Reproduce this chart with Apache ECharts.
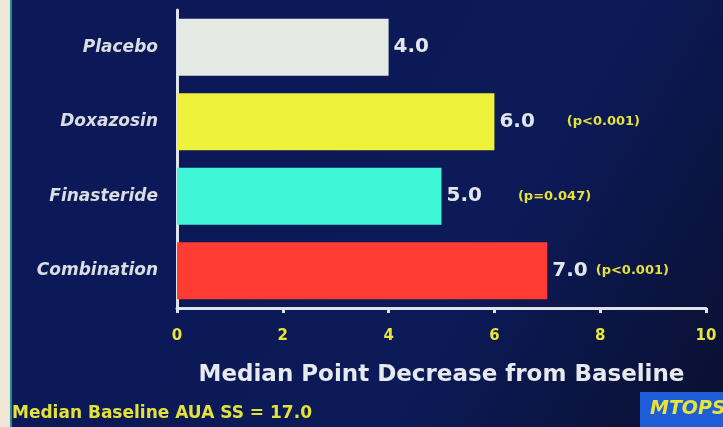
<!DOCTYPE html>
<html>
<head>
<meta charset="utf-8">
<script src="https://cdn.jsdelivr.net/npm/echarts@6/dist/echarts.min.js"></script>
<style>html,body{margin:0;padding:0;}#c{width:723px;height:427px;}</style>
</head>
<body>
<div id="c"></div>
<script>
// Treatment arms, top to bottom
const categories = ['Placebo', 'Doxazosin', 'Finasteride', 'Combination'];
// Median point decrease from baseline
const values = [4.0, 6.0, 5.0, 7.0];
// Significance versus placebo
const pValues = ['', '(p<0.001)', '(p=0.047)', '(p<0.001)'];
const xTicks = [0, 2, 4, 6, 8, 10];

const barColors = ['#e6eae4', '#eef23a', '#3ff7d6', '#ff3b32'];
const pGap = [0, 32, 36, 8];

const chart = echarts.init(document.getElementById('c'));
chart.setOption({
  backgroundColor: new echarts.graphic.LinearGradient(0, 0, 1, 1, [
    { offset: 0, color: '#0c1857' },
    { offset: 0.65, color: '#0c1a58' },
    { offset: 1, color: '#0a1030' }
  ]),
  animation: false,
  grid: { left: 177, right: 17, top: 10, bottom: 119 },
  xAxis: {
    type: 'value', min: 0, max: 10, interval: 2,
    axisLine: { show: true, lineStyle: { color: '#dfe3e8', width: 3 } },
    axisTick: { show: true, length: 5, lineStyle: { color: '#dfe3e8', width: 3 } },
    splitLine: { show: false },
    axisLabel: {
      color: '#e8e63a', fontFamily: 'DejaVu Sans', fontWeight: 'bold', fontSize: 15, margin: 21,
      formatter: v => xTicks.includes(v) ? String(v) : ''
    },
    name: 'Median Point Decrease from Baseline',
    nameLocation: 'middle', nameGap: 56,
    nameTextStyle: { color: '#e6e9ee', fontFamily: 'DejaVu Sans', fontWeight: 'bold', fontSize: 23 }
  },
  yAxis: {
    type: 'category', data: categories, inverse: true,
    axisLine: { show: true, lineStyle: { color: '#dfe3e8', width: 3 } },
    axisTick: { show: false },
    axisLabel: {
      color: '#d9dde2', fontFamily: 'DejaVu Sans', fontWeight: 'bold', fontStyle: 'italic',
      fontSize: 17, margin: 19
    }
  },
  series: [{
    type: 'bar',
    barWidth: 57,
    data: values.map((v, i) => ({
      value: v,
      itemStyle: { color: barColors[i] },
      label: {
        show: true, position: 'right', distance: 5,
        formatter: () => '{v|' + v.toFixed(1) + '}' + (pValues[i] ? '{p|' + pValues[i] + '}' : ''),
        rich: {
          v: { color: '#e3e6ea', fontFamily: 'DejaVu Sans', fontWeight: 'bold', fontSize: 20 },
          p: { color: '#e4e23a', fontFamily: 'DejaVu Sans', fontWeight: 'bold', fontSize: 13, padding: [0, 0, 0, pGap[i]] }
        }
      }
    }))
  }],
  graphic: [
    { type: 'rect', left: 0, top: 0, shape: { width: 10, height: 427 }, style: { fill: '#efe6d6' } },
    { type: 'rect', left: 10, top: 0, shape: { width: 2, height: 427 }, style: { fill: '#1f8f8a' } },
    {
      type: 'text', left: 12, top: 405,
      style: { text: 'Median Baseline AUA SS = 17.0', fill: '#e4e23a', font: 'bold 17px "DejaVu Sans"' }
    },
    {
      type: 'rect', left: 640, top: 392, shape: { width: 83, height: 35 },
      style: { fill: '#1e5ed8' }
    },
    {
      type: 'text', left: 650, top: 400,
      style: { text: 'MTOPS', fill: '#e8e43a', font: 'italic bold 19px "DejaVu Sans"' }
    }
  ]
});
</script>
</body>
</html>
